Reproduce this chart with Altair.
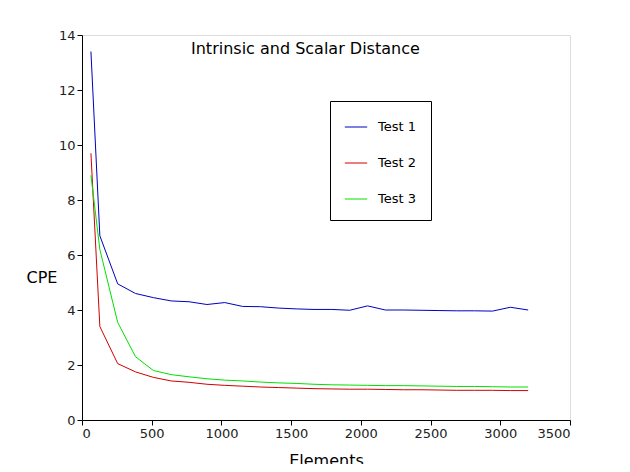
import altair as alt
import pandas as pd

x = [64] + [128 * i for i in range(1, 26)]
test1 = [13.4, 6.7, 4.95, 4.6, 4.45, 4.33, 4.3, 4.2, 4.27, 4.13, 4.12, 4.07, 4.04, 4.02, 4.02, 3.99, 4.15, 4.0, 4.0, 3.99, 3.98, 3.97, 3.97, 3.96, 4.1, 4.0]
test2 = [9.7, 3.4, 2.05, 1.75, 1.55, 1.42, 1.37, 1.3, 1.26, 1.23, 1.2, 1.18, 1.16, 1.14, 1.13, 1.12, 1.12, 1.11, 1.1, 1.1, 1.09, 1.08, 1.08, 1.08, 1.07, 1.07]
test3 = [8.9, 6.2, 3.55, 2.3, 1.8, 1.65, 1.57, 1.5, 1.45, 1.42, 1.38, 1.35, 1.33, 1.3, 1.28, 1.27, 1.26, 1.25, 1.25, 1.24, 1.23, 1.22, 1.22, 1.21, 1.2, 1.2]

rows = []
for name, vals in [("Test 1", test1), ("Test 2", test2), ("Test 3", test3)]:
    for xi, v in zip(x, vals):
        rows.append({"Elements": xi, "CPE": v, "series": name})
df = pd.DataFrame(rows)

font = "DejaVu Sans"
chart = alt.Chart(df).mark_line(strokeWidth=1).encode(
    x=alt.X("Elements:Q", scale=alt.Scale(domain=[0, 3500], nice=False),
            axis=alt.Axis(values=list(range(0, 3501, 500)), format="d", grid=False, title="Elements",
                          titleFontSize=16, titleFontWeight="normal", labelFontSize=13,
                          titlePadding=12, domainColor="black", tickColor="black",
                          labelColor="#222")),
    y=alt.Y("CPE:Q", scale=alt.Scale(domain=[0, 14], nice=False),
            axis=alt.Axis(values=list(range(0, 15, 2)), grid=False, title="CPE",
                          titleAngle=0, titleX=-56, titleY=250, titleAlign="left",
                          titleFontSize=16, titleFontWeight="normal", labelFontSize=13,
                          domainColor="black", tickColor="black", labelColor="#222")),
    color=alt.Color("series:N",
                    scale=alt.Scale(domain=["Test 1", "Test 2", "Test 3"],
                                    range=["#0000c0", "#d00000", "#00e000"]),
                    legend=alt.Legend(title=None, orient="none", legendX=248, legendY=66,
                                      symbolType="stroke", symbolSize=500, symbolStrokeWidth=1,
                                      labelFontSize=13, rowPadding=17, padding=14,
                                      strokeColor="black", fillColor="white",
                                      labelOffset=10)),
).properties(
    width=488, height=385,
    title=alt.TitleParams("Intrinsic and Scalar Distance", fontSize=16, fontWeight="normal",
                          anchor="start", dx=165, offset=-28, font=font),
    autosize=alt.AutoSizeParams(type="none"),
    padding={"left": 74, "top": 27, "right": 52, "bottom": 44},
).configure_view(stroke=None).configure(font=font)

chart.save("out.html", embed_options={"renderer": "svg", "actions": False})
